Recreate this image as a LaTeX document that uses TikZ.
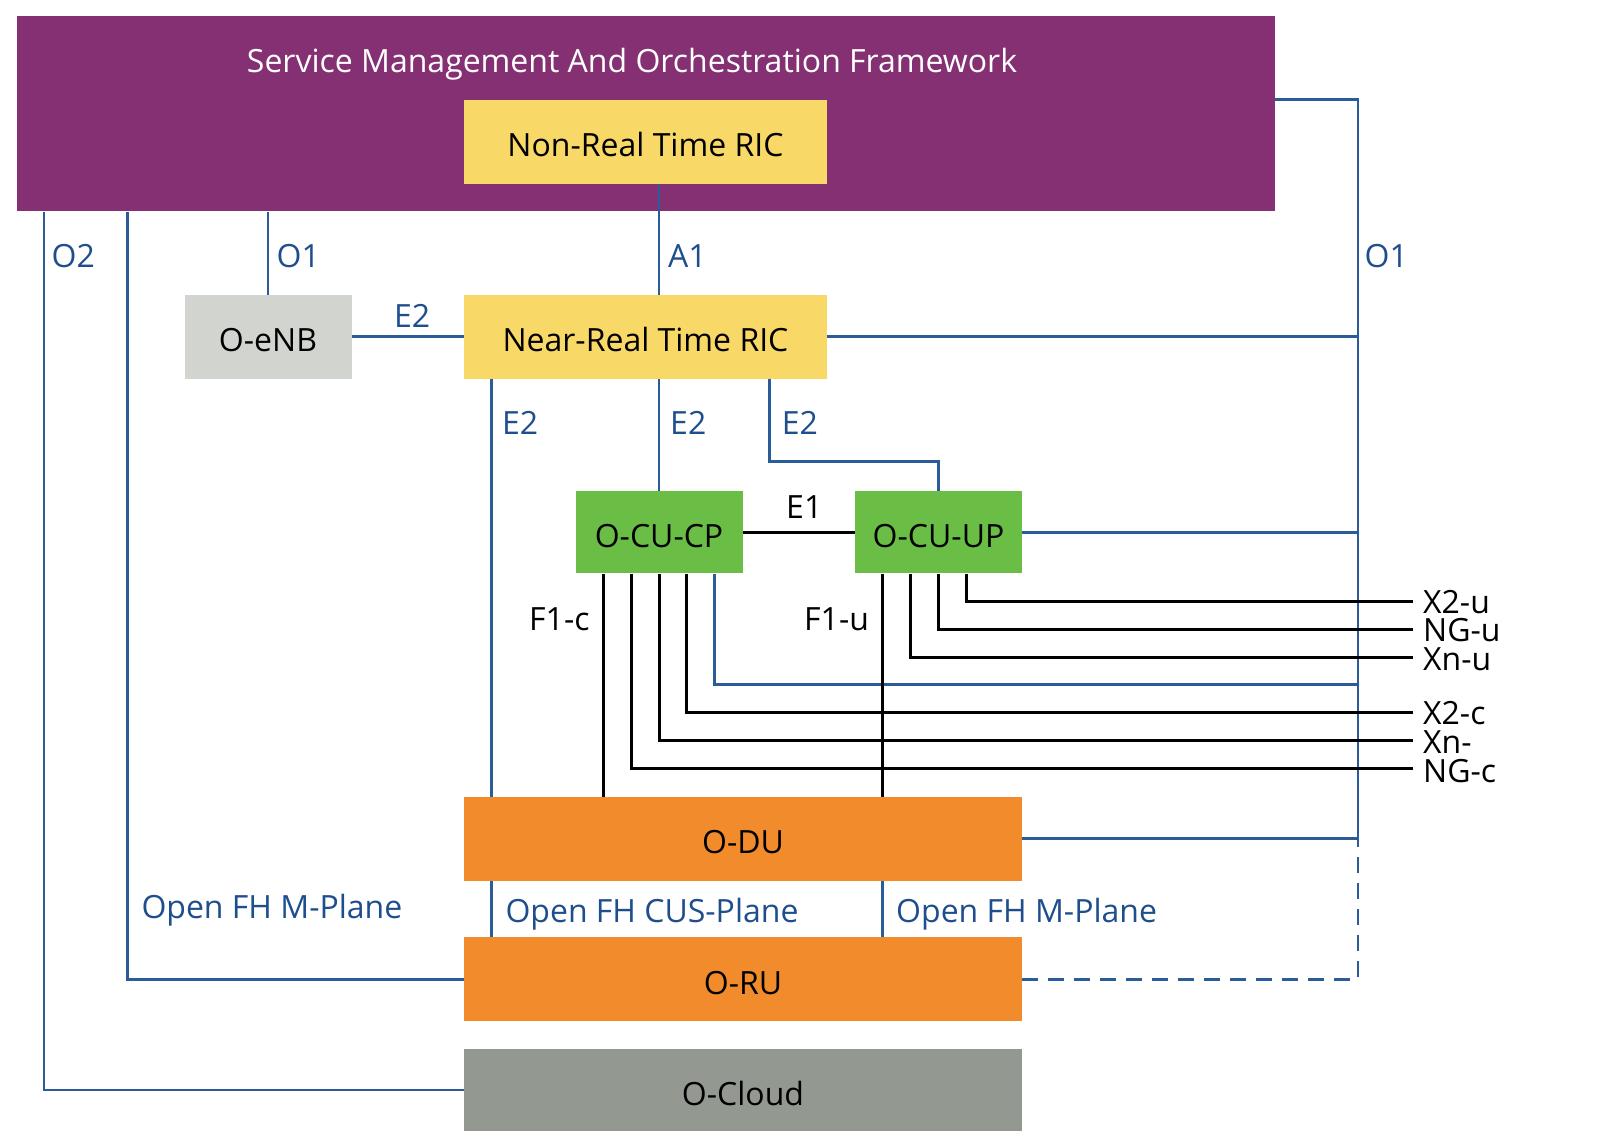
\documentclass[tikz,border=0pt]{standalone}
\usepackage{fontspec}
\setmainfont{Open Sans}
\usetikzlibrary{calc}
\definecolor{smocol}{HTML}{843072}
\definecolor{ricyellow}{HTML}{F8D867}
\definecolor{enbgrey}{HTML}{D1D4CF}
\definecolor{cugreen}{HTML}{6ABD45}
\definecolor{duorange}{HTML}{F28B2B}
\definecolor{cloudgrey}{HTML}{939990}
\definecolor{lineblue}{HTML}{2B5C9A}
\definecolor{textblue}{HTML}{1F4E8D}
\begin{document}
\begin{tikzpicture}[x=1pt,y=-1pt,
  box/.style={rectangle, inner sep=0pt, text height=30pt, text depth=0pt, font=\fontsize{32}{38}\selectfont, text=black},
  bl/.style={draw=lineblue, line width=2.7pt},
  bk/.style={draw=black, line width=3pt},
  lab/.style={anchor=base west, inner sep=0pt, font=\fontsize{32}{38}\selectfont, text=textblue},
  blab/.style={lab, text=black}]
\useasboundingbox (0,0) rectangle (1617,1147);
% boxes
\node[box, fill=smocol, minimum width=1258pt, minimum height=195pt] (smo) at (645.5,114) {};
\node[box, text=white] (title) at (632,58) {Service Management And Orchestration Framework};
\node[box, fill=ricyellow, minimum width=363pt, minimum height=83.6pt] (nonrt) at (645.5,141.8) {Non-Real Time RIC};
\node[box, fill=ricyellow, minimum width=363pt, minimum height=83.5pt] (nearrt) at (645.5,336.8) {Near-Real Time RIC};
\node[box, fill=enbgrey, minimum width=167pt, minimum height=83.5pt] (enb) at (268,336.8) {O-eNB};
\node[box, fill=cugreen, minimum width=167pt, minimum height=82.4pt] (cp) at (659,532.2) {O-CU-CP};
\node[box, fill=cugreen, minimum width=167pt, minimum height=82.4pt] (up) at (938.5,532.2) {O-CU-UP};
\node[box, fill=duorange, minimum width=558pt, minimum height=83.7pt] (odu) at (743,838.8) {O-DU};
\node[box, fill=duorange, minimum width=558pt, minimum height=83.6pt] (oru) at (743,979.2) {O-RU};
\node[box, fill=cloudgrey, minimum width=558pt, minimum height=82.5pt] (cloud) at (743,1090) {O-Cloud};
% helper coordinates
\coordinate (bus) at (1358,0);
\coordinate (jCP) at (1358,684.8);
\coordinate (tX2u) at (1413,601.2);
\coordinate (tNGu) at (1413,629);
\coordinate (tXnu) at (1413,657);
\coordinate (tX2c) at (1413,712.6);
\coordinate (tXnc) at (1413,740.5);
\coordinate (tNGc) at (1413,768.3);
\coordinate (e2a) at ($(nearrt.south west)+(28,0)$);
\coordinate (e2c) at ($(nearrt.south west)+(306,0)$);
\coordinate (f1c) at ($(cp.south)+(-55.7,0)$);
\coordinate (f1u) at ($(up.south)+(-55.7,0)$);
% blue connectors
\draw[bl] ($(smo.south west)+(27.8,0)$) |- (cloud.west);
\draw[bl] ($(smo.south west)+(111.4,0)$) |- (oru.west);
\draw[bl] (enb.north |- smo.south) -- (enb.north);
\draw[bl] (cp.north |- nonrt.south) -- (cp.north |- nearrt.north);
\draw[bl] (smo.east |- nonrt.north) -| (bus |- odu.east);
\draw[bl] (nearrt.east) -- (bus |- nearrt.east);
\draw[bl] (up.east) -- (bus |- up.east);
\draw[bl] (odu.east) -- (bus |- odu.east);
\draw[bl, dash pattern=on 16pt off 10pt] (oru.east) -| (bus |- odu.east);
\draw[bl] (enb.east) -- (nearrt.west);
\draw[bl] (e2a) -- (e2a |- odu.north);
\draw[bl] (e2a |- odu.south) -- (e2a |- oru.north);
\draw[bl] (cp.north |- nearrt.south) -- (cp.north);
\draw[bl] (e2c) |- ($(up.north)+(0,-29)$) -- (up.north);
\draw[bl] ($(cp.south)+(55.7,0)$) |- (jCP);
\draw[bl] (f1u |- odu.south) -- (f1u |- oru.north);
% black connectors
\draw[bk] (cp.east) -- (up.west);
\draw[bk] (f1c) -- (f1c |- odu.north);
\draw[bk] (f1u) -- (f1u |- odu.north);
\draw[bk] ($(up.south)+(27.8,0)$) |- (tX2u);
\draw[bk] (up.south) |- (tNGu);
\draw[bk] ($(up.south)+(-27.8,0)$) |- (tXnu);
\draw[bk] ($(cp.south)+(27.8,0)$) |- (tX2c);
\draw[bk] (cp.south) |- (tXnc);
\draw[bk] ($(cp.south)+(-27.8,0)$) |- (tNGc);
% labels
\node[lab] (lO2) at (51.5,267.2) {O2};
\node[lab] (lO1a) at (276.4,267.2) {O1};
\node[lab] (lA1) at (668,267.2) {A1};
\node[lab] (lO1b) at (1364.5,267.2) {O1};
\node[lab] (lE2e) at (394,327.5) {E2};
\node[lab] (lE2a) at (502,434.2) {E2};
\node[lab] (lE2b) at (670,434.2) {E2};
\node[lab] (lE2c) at (781.7,434.2) {E2};
\node[blab] (lE1) at (786,518.8) {E1};
\node[blab] (lF1c) at (529,630.2) {F1-c};
\node[blab] (lF1u) at (804,630.2) {F1-u};
\node[lab] (lMl) at (141.3,918.9) {Open FH M-Plane};
\node[lab] (lCUS) at (505.3,922) {Open FH CUS-Plane};
\node[lab] (lMr) at (896,922) {Open FH M-Plane};
\node[blab] (lX2u) at ($(tX2u)+(10,12)$) {X2-u};
\node[blab] (lNGu) at ($(tNGu)+(10,12.5)$) {NG-u};
\node[blab] (lXnu) at ($(tXnu)+(10,13)$) {Xn-u};
\node[blab] (lX2c) at ($(tX2c)+(10,12)$) {X2-c};
\node[blab] (lXnc) at ($(tXnc)+(10,12.5)$) {Xn-};
\node[blab] (lNGc) at ($(tNGc)+(10,14)$) {NG-c};
\end{tikzpicture}
\end{document}
